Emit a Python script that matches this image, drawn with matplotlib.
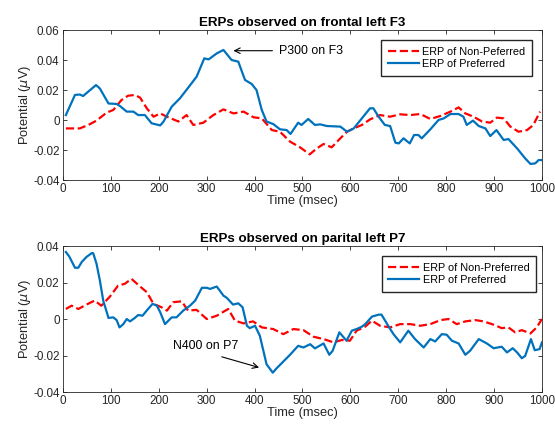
import numpy as np
import matplotlib.pyplot as plt

plt.rcParams['font.family'] = ['Liberation Sans', 'DejaVu Sans']
plt.rcParams['mathtext.fontset'] = 'dejavusans'

# frontal left F3
f3_pref_t = [6, 25, 35, 42, 53, 69, 77, 95, 112, 119, 133, 147, 157, 171, 185, 203, 210, 227,
             244, 262, 279, 295, 304, 321, 335, 352, 366, 380, 394, 404, 415, 425, 439, 453,
             467, 475, 491, 498, 512, 526, 537, 551, 579, 593, 607, 624, 641, 648, 659, 672,
             683, 694, 701, 711, 724, 733, 742, 749, 767, 784, 795, 809, 826, 836, 843, 856,
             868, 882, 892, 905, 920, 930, 948, 965, 976, 986, 993, 1000]
f3_pref_v = [0.0033, 0.0167, 0.017, 0.016, 0.019, 0.0233, 0.021, 0.011, 0.0107, 0.0093, 0.0056,
             0.0056, 0.0033, 0.0033, -0.0022, -0.0036, -0.001, 0.0089, 0.0144, 0.0218, 0.0289,
             0.0411, 0.0404, 0.0444, 0.0467, 0.040, 0.0389, 0.0267, 0.024, 0.020, 0.0067,
             -0.001, -0.0027, -0.0062, -0.0067, -0.0093, -0.0018, -0.0033, 0.0007, -0.0033,
             -0.0029, -0.004, -0.0044, -0.0078, -0.0056, 0.0011, 0.0078, 0.0078, 0.0022,
             -0.0033, -0.004, -0.0151, -0.0156, -0.0122, -0.0156, -0.010, -0.010, -0.0122,
             -0.0062, 0.0, 0.0011, 0.004, 0.004, 0.0022, -0.0033, -0.0004, -0.004, -0.0056,
             -0.0107, -0.0067, -0.0133, -0.0127, -0.0189, -0.0256, -0.0293, -0.0289, -0.0267,
             -0.0267]
f3_non_t = [6, 35, 53, 70, 91, 105, 122, 136, 150, 161, 175, 189, 203, 217, 241, 258, 272, 293,
            314, 335, 356, 377, 398, 415, 436, 453, 474, 495, 515, 530, 544, 561, 579, 593,
            607, 624, 641, 662, 683, 704, 725, 746, 767, 788, 809, 826, 840, 857, 875, 892,
            906, 920, 934, 951, 969, 982, 996]
f3_non_v = [-0.0056, -0.0056, -0.0033, -0.0004, 0.0049, 0.0067, 0.0133, 0.0162, 0.0167, 0.0149,
            0.0078, 0.0022, 0.0044, 0.0022, -0.001, 0.0033, -0.0033, -0.0018, 0.0033, 0.0071,
            0.0044, 0.0056, 0.0018, 0.0011, -0.0067, -0.0078, -0.0144, -0.0182, -0.0229,
            -0.0189, -0.016, -0.0182, -0.0122, -0.0078, -0.0056, -0.0033, 0.0004, 0.0033,
            0.0022, 0.0038, 0.0033, 0.004, 0.0007, 0.0027, 0.0056, 0.0084, 0.0044, 0.0022,
            -0.001, -0.0018, 0.0016, 0.0011, -0.0044, -0.0078, -0.0067, -0.0033, 0.0056]

# parietal left P7
p7_pref_t = [6, 13, 25, 32, 39, 49, 60, 63, 70, 77, 84, 95, 105, 112, 118, 126, 133, 140, 150,
             157, 166, 176, 187, 196, 203, 213, 227, 237, 251, 265, 276, 290, 300, 307, 321,
             335, 342, 355, 366, 375, 384, 390, 401, 411, 425, 438, 446, 460, 474, 491, 502,
             516, 526, 544, 556, 563, 577, 592, 603, 613, 624, 631, 645, 659, 665, 679, 690,
             704, 721, 735, 753, 767, 777, 791, 801, 812, 826, 840, 850, 868, 885, 899, 916,
             927, 939, 948, 958, 965, 977, 985, 995, 1000]
p7_pref_v = [0.0367, 0.0343, 0.0281, 0.0281, 0.0312, 0.034, 0.0361, 0.0361, 0.0303, 0.0211,
             0.0101, 0.0006, 0.0009, -0.0006, -0.0046, -0.0028, 0.0, -0.0013, 0.0006, 0.0022,
             0.0018, 0.005, 0.0083, 0.0073, 0.0037, -0.0028, 0.0009, 0.0009, 0.0046, 0.0073,
             0.0101, 0.0171, 0.0171, 0.0165, 0.0178, 0.0128, 0.0116, 0.0079, 0.0086, 0.0064,
             -0.0037, -0.005, -0.0037, -0.0092, -0.0248, -0.0294, -0.027, -0.0233, -0.0196,
             -0.0147, -0.0156, -0.0138, -0.0161, -0.0134, -0.0196, -0.0174, -0.0073, -0.0119,
             -0.0064, -0.0055, -0.0042, -0.0028, 0.0013, 0.0024, 0.0024, -0.0037, -0.0083,
             -0.0128, -0.0064, -0.011, -0.0156, -0.011, -0.0123, -0.0083, -0.0086, -0.0119,
             -0.0134, -0.0196, -0.0174, -0.011, -0.0134, -0.016, -0.0152, -0.0183, -0.016,
             -0.0183, -0.0215, -0.0202, -0.011, -0.0171, -0.0165, -0.0128]
p7_non_t = [6, 18, 32, 49, 66, 80, 98, 115, 129, 143, 161, 175, 189, 206, 217, 230, 248, 261,
            279, 300, 321, 345, 359, 377, 397, 415, 439, 460, 481, 502, 523, 544, 565, 582,
            599, 613, 631, 645, 662, 683, 704, 725, 746, 767, 788, 805, 822, 840, 861, 878,
            899, 916, 930, 944, 958, 976, 989, 1000]
p7_non_v = [0.0055, 0.0073, 0.0055, 0.0079, 0.0101, 0.0073, 0.0123, 0.0183, 0.0193, 0.022,
            0.0178, 0.0147, 0.0083, 0.0064, 0.0046, 0.0092, 0.0097, 0.0046, 0.005, 0.0,
            0.0018, 0.0055, -0.0009, -0.0024, -0.0013, -0.0046, -0.0055, -0.0083, -0.0055,
            -0.0061, -0.0097, -0.011, -0.0128, -0.0115, -0.0119, -0.0064, -0.0042, -0.0009,
            -0.0037, -0.0046, -0.0028, -0.0028, -0.0037, -0.0028, -0.0006, 0.0, -0.0028,
            -0.0013, -0.0006, -0.0013, -0.0031, -0.005, -0.0046, -0.0073, -0.0061, -0.0079,
            -0.0046, 0.0]

blue = '#0072BD'
fig = plt.figure(figsize=(5.55, 4.28), dpi=100)
ax1 = fig.add_axes([0.1135, 0.5794, 0.863, 0.3505])
ax2 = fig.add_axes([0.1135, 0.0841, 0.863, 0.3411])


def style(ax, title, ylim, yticks):
    ax.set_xlim(0, 1000)
    ax.set_ylim(*ylim)
    ax.set_xticks(np.arange(0, 1001, 100))
    ax.set_yticks(yticks)
    ax.set_yticklabels(['0' if t == 0 else f'{t:g}' for t in yticks])
    ax.tick_params(direction='in', top=True, right=True, labelsize=8.4, length=3,
                   colors='#262626', width=0.6, pad=2.5)
    for s in ax.spines.values():
        s.set_color('#262626')
        s.set_linewidth(0.6)
    ax.set_title(title, fontsize=9.6, fontweight='bold', pad=3)
    ax.set_xlabel('Time (msec)', fontsize=9.3, labelpad=0, color='#262626')
    ax.set_ylabel(r'Potential ($\mu$V)', fontsize=9.3, labelpad=0, color='#262626')


leg_kw = dict(loc='upper right', borderaxespad=0, fontsize=7.8, fancybox=False,
              edgecolor='#262626', framealpha=1, handlelength=2.9, borderpad=0.6,
              labelspacing=0.25, handletextpad=0.3)

ax1.plot(f3_non_t, f3_non_v, '--', color='r', lw=1.6, label='ERP of Non-Peferred')
ax1.plot(f3_pref_t, f3_pref_v, '-', color=blue, lw=1.6, label='ERP of Preferred')
style(ax1, 'ERPs observed on frontal left F3', (-0.04, 0.06),
      [-0.04, -0.02, 0, 0.02, 0.04, 0.06])
ax1.legend(bbox_to_anchor=(1 - 10 / 479, 1 - 10 / 150), **leg_kw)
ax1.annotate('', xy=(350, 0.0462), xytext=(443, 0.0462),
             arrowprops=dict(arrowstyle='->', color='k', lw=0.8))
ax1.text(452, 0.0462, 'P300 on F3', fontsize=8.9, ha='left', va='center')

ax2.plot(p7_non_t, p7_non_v, '--', color='r', lw=1.6, label='ERP of Non-Preferred')
ax2.plot(p7_pref_t, p7_pref_v, '-', color=blue, lw=1.6, label='ERP of Preferred')
style(ax2, 'ERPs observed on parital left P7', (-0.04, 0.04),
      [-0.04, -0.02, 0, 0.02, 0.04])
ax2.legend(bbox_to_anchor=(1 - 6 / 479, 1 - 10 / 146), **leg_kw)
ax2.annotate('', xy=(415, -0.027), xytext=(326, -0.0203),
             arrowprops=dict(arrowstyle='->', color='k', lw=0.8))
ax2.text(230, -0.0148, 'N400 on P7', fontsize=8.9, ha='left', va='center')

fig.savefig('out.png', dpi=100)
